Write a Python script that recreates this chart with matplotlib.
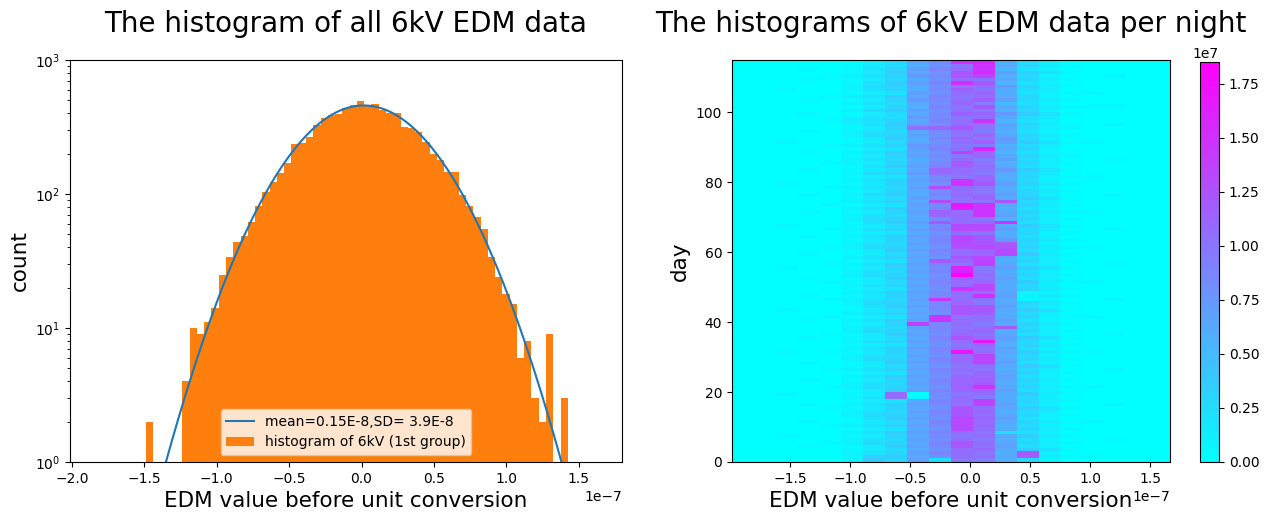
import numpy as np
import matplotlib
matplotlib.use("Agg")
import matplotlib.pyplot as plt

# ---- left: histogram of all 6kV EDM data (counts per bin)
hist_start = -1.8393e-7
hist_width = 0.0502e-7
hist_counts = [0, 1, 1, 0, 1, 0, 0, 2, 1, 0, 0, 0, 4, 10, 9, 11, 14, 25, 34, 44,
               49, 62, 81, 104, 123, 144, 171, 236, 240, 266, 327, 367, 389, 395,
               436, 461, 494, 461, 470, 424, 405, 400, 315, 312, 289, 246, 200,
               179, 147, 145, 98, 81, 67, 55, 34, 24, 18, 15, 6, 8, 3, 2, 9, 1,
               3, 0, 1, 1, 0]
fit_mean = 0.15e-8
fit_sd = 3.9e-8

# ---- right: per-night 2D histogram, one string per day (top row = last day)
# each char is a level 0..35 (base 36), 35 = colour max
heat_xmin = -1.983e-7
heat_xmax = 1.667e-7
heat_max = 1.85e7
heat_rows = [
    "00000025cgstb5200000", "00000135bfjsc6310000", "00010146dhksa4200000",
    "00000137centd7410000", "00001246egnqb5200100", "00010135bfkjc6310000",
    "00000147dhtna4200000", "00000256cfjke6310000", "00100246bgmjc5300000",
    "00000134dfklb4211000", "00001347chjkc6200000", "00010136egkmd5310000",
    "00000245cfli94100000", "00000136bhjnc6311100", "00000257dfkib5200000",
    "00010135cgmle7410000", "00000244egjkc5300000", "00001346chksa4200000",
    "00000247dfkkd6310100", "00000136klnjc5210000", "00010245cgkib4200000",
    "00000256dfjlc6310000", "00000137bhlie5200000", "00100135cfkmd7411000",
    "00001246egjib5300000", "00000134dhkuc6200000", "00010247cfqka4210000",
    "00000136dgjlc6310000", "00000245bfkid5200100", "00001236cgnjb6310000",
    "00000147dhmkc4200000", "00010135clkje7410000", "00000256ekkic5300000",
    "00000134cgjlb6211000", "00000247dhsmc5200000", "00100136cfsnd6310000",
    "00001245dpkjb4200000", "00000136cgkic6310000", "00010257bhlkd5200100",
    "00000135dfjmc7410000", "00000246cpkjn5200000", "00001134dgwsc6310000",
    "00000247chvsb4200000", "00010136dmksc6311000", "00000245cllsd5200000",
    "00000256cgkjb6310000", "00000147dnkls4200000", "00100135cgppc7410000",
    "00001246dhppd5300100", "00000134cfkjb6210000", "00010247dgpnc4200000",
    "00000136chpne6310000", "00000245dgpnn5200000", "00001256cfopn6311000",
    "00000137dhklp4200000", "00010135cgklp7310000", "00000246dfnpc5200000",
    "00000134cnlqb6310000", "00001247dhjqc4200100", "00100136cguid7410000",
    "00000245dhujb5200000", "00000256cfzkc6310000", "00010137dgmjd4200000",
    "00001135chklc7311000", "00000246dgkpb5200000", "00000134cfspc6310000",
    "00000247dhkjc1200000", "00010136cgktd2310000", "00001245dskjb1200100",
    "00000256cglic6310000", "00000147dhnnd4200000", "00100135cgnnc7410000",
    "00000246dfnmb5300000", "00001134csjkc6211000", "00010247dskjd4200000",
    "00000136qgkic6310000", "00000245dhjkn5200000", "00000256cgklb6310000",
    "00001137dfljc4200100", "00010135chnkd7410000", "00000246dgkwc5200000",
    "00000134cfjlb6310000", "00000247dhkjd4200000", "00101136cgwkc7311000",
    "00000245dfkpb5200000", "00000256chlpc6310000", "00010137dgkqd4200000",
    "00000135cfjkc7410000", "00001246dhkjb5300100", "00000134cgjlc6210000",
    "00000247dflld4200000", "00010136chlmc6310000", "00000245dglnb5200000",
    "00001256cfmsc6311000", "00000137dhlld4200000", "0010013k0gjkc7310000",
    "0000024k1fkib5200000", "00000134chkqc6310000", "00010247dgjqd4200100",
    "00001136cfnkc7410000", "00000245dhnlb5300000", "00000256cgnkc6210000",
    "00000147dfpld4200000", "00010135chpkc6311000", "00001246dgplb5200000",
    "00000134cfpkc6310000", "00000247dhkj44200000", "00100136cgjkc7310000",
    "00000245dfkib5200100", "00001256chnkc6310000", "00010137dgnjd4200000",
    "00000135cfklc7410000", "00000246dhkjbn200000", "00000167cfkkcm311000",
    "00000286d4jib5200000",
]

# ---- build
counts = np.array(hist_counts, dtype=float)
edges = hist_start + hist_width * np.arange(len(counts) + 1)
centers = 0.5 * (edges[:-1] + edges[1:])

levels = np.array([[int(ch, 36) for ch in row] for row in heat_rows[::-1]])
heat = levels / 35.0 * heat_max
xedges = np.linspace(heat_xmin, heat_xmax, levels.shape[1] + 1)
yedges = np.arange(levels.shape[0] + 1)

fig = plt.figure(figsize=(12.68, 5.14), dpi=100)
ax1 = fig.add_axes([0.0552, 0.1012, 0.4353, 0.782])
ax2 = fig.add_axes([0.5773, 0.1012, 0.3454, 0.782])
cax = fig.add_axes([0.9464, 0.1012, 0.0150, 0.778])

# left panel
xfit = np.linspace(edges[0], edges[-1], 400)
yfit = counts.sum() * hist_width * np.exp(-(xfit - fit_mean) ** 2 / (2 * fit_sd ** 2)) \
    / (fit_sd * np.sqrt(2 * np.pi))
ax1.plot(xfit, yfit, color='C0', lw=1.5, label='mean=0.15E-8,SD= 3.9E-8')
ax1.hist(centers, bins=edges, weights=counts, log=True, color='C1',
         label='histogram of 6kV (1st group)')
ax1.set_ylim(1, 1000)
ax1.set_title('The histogram of all 6kV EDM data', fontsize=20, pad=20)
ax1.set_xlabel('EDM value before unit conversion', fontsize=15.5)
ax1.set_ylabel('count', fontsize=15.5)
ax1.legend(loc='lower center')

# right panel
mesh = ax2.pcolormesh(xedges, yedges, heat, cmap='cool', vmin=0, vmax=heat_max)
ax2.set_xlim(heat_xmin, heat_xmax)
ax2.set_ylim(0, levels.shape[0])
ax2.set_title('The histograms of 6kV EDM data per night', fontsize=20, pad=20)
ax2.set_xlabel('EDM value before unit conversion', fontsize=15.5)
ax2.set_ylabel('day', fontsize=15.5)
fig.colorbar(mesh, cax=cax)

fig.savefig('out.png', dpi=100)
